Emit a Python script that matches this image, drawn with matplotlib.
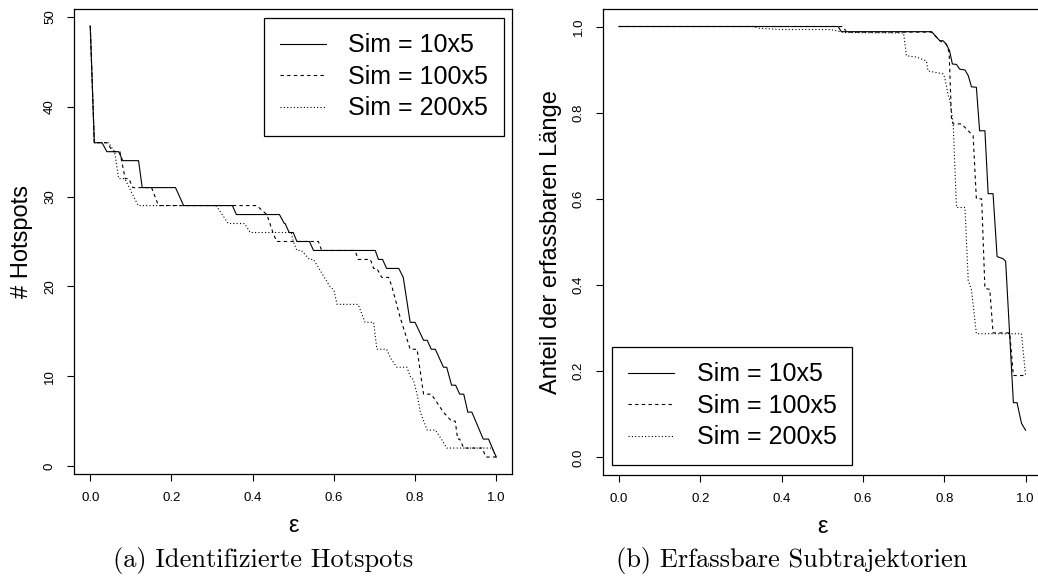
import matplotlib
matplotlib.use("Agg")
from matplotlib import pyplot as plt

plt.rcParams["font.family"] = ["Liberation Sans", "DejaVu Sans"]

labels = ["Sim = 10x5", "Sim = 100x5", "Sim = 200x5"]

# (a) number of hotspots over epsilon
hot_eps_10 = [0, 0.01, 0.029, 0.041, 0.07, 0.08, 0.119, 0.128, 0.21, 0.23, 0.35, 0.36,
              0.466, 0.478, 0.48, 0.49, 0.50, 0.509, 0.54, 0.55, 0.702, 0.71, 0.72, 0.73,
              0.76, 0.771, 0.788, 0.80, 0.821, 0.83, 0.84, 0.85, 0.87, 0.878, 0.89, 0.90,
              0.91, 0.92, 0.93, 0.94, 0.968, 0.981, 1.0]
hot_10 = [49, 36, 36, 35, 35, 34, 34, 31, 31, 29, 29, 28,
          28, 27, 27, 26, 26, 25, 25, 24, 24, 23, 23, 22,
          22, 21, 16, 16, 14, 14, 13, 13, 11, 11, 9, 9,
          8, 8, 6, 6, 3, 3, 1]

hot_eps_100 = [0, 0.01, 0.04, 0.057, 0.073, 0.086, 0.095, 0.105, 0.151, 0.168, 0.41, 0.435,
               0.45, 0.459, 0.562, 0.57, 0.652, 0.66, 0.69, 0.698, 0.706, 0.718, 0.735, 0.743,
               0.763, 0.788, 0.805, 0.821, 0.84, 0.87, 0.89, 0.899, 0.905, 0.91, 0.92, 0.965,
               0.975, 1.0]
hot_100 = [49, 36, 36, 35, 35, 32, 32, 31, 31, 29, 29, 28,
           26, 25, 25, 24, 24, 23, 23, 22, 22, 21, 21, 20,
           16.6, 13, 13, 8, 8, 6, 5, 5, 3, 3, 2, 2,
           1, 1]

hot_eps_200 = [0, 0.01, 0.045, 0.06, 0.07, 0.085, 0.118, 0.31, 0.34, 0.38, 0.394, 0.495,
               0.50, 0.509, 0.52, 0.54, 0.55, 0.59, 0.60, 0.608, 0.66, 0.677, 0.698, 0.706,
               0.73, 0.74, 0.755, 0.78, 0.788, 0.796, 0.805, 0.813, 0.83, 0.85, 0.865, 0.878,
               0.989, 1.0]
hot_200 = [49, 36, 36, 35, 32, 32, 29, 29, 27, 27, 26, 26,
           25, 24, 24, 23, 23, 20, 19.6, 18, 18, 16, 16, 13,
           13, 12, 11, 11, 10, 9.6, 8, 6, 4, 4, 3, 2,
           2, 1]

# (b) share of coverable length over epsilon
len_eps_10 = [0, 0.539, 0.547, 0.769, 0.789, 0.797, 0.805, 0.813, 0.82, 0.83, 0.838, 0.851,
              0.859, 0.867, 0.879, 0.887, 0.90, 0.908, 0.92, 0.93, 0.945, 0.951, 0.97, 0.979,
              0.99, 1.0]
len_10 = [1.0, 1.0, 0.988, 0.988, 0.967, 0.967, 0.959, 0.944, 0.913, 0.912, 0.901, 0.899,
          0.886, 0.86, 0.859, 0.758, 0.758, 0.612, 0.612, 0.466, 0.461, 0.455, 0.127, 0.127,
          0.079, 0.063]

len_eps_100 = [0, 0.55, 0.56, 0.769, 0.789, 0.805, 0.812, 0.818, 0.822, 0.842, 0.855, 0.867,
               0.871, 0.879, 0.892, 0.90, 0.912, 0.92, 0.961, 0.97, 1.0]
len_100 = [1.0, 1.0, 0.987, 0.987, 0.967, 0.959, 0.94, 0.781, 0.774, 0.774, 0.762, 0.75,
           0.747, 0.60, 0.60, 0.392, 0.39, 0.289, 0.289, 0.19, 0.19]

len_eps_200 = [0, 0.33, 0.345, 0.40, 0.52, 0.555, 0.70, 0.707, 0.732, 0.756, 0.76, 0.797,
               0.801, 0.81, 0.814, 0.822, 0.83, 0.851, 0.859, 0.867, 0.879, 0.99, 1.0]
len_200 = [1.0, 1.0, 0.996, 0.993, 0.993, 0.986, 0.985, 0.932, 0.929, 0.92, 0.897, 0.89,
           0.882, 0.839, 0.828, 0.774, 0.58, 0.58, 0.41, 0.389, 0.287, 0.287, 0.19]

styles = [dict(ls="-"), dict(ls=(0, (3, 3))), dict(ls=(0, (1, 2)))]


def r_style(ax, yticks, ylabels):
    ax.set_xticks([0, 0.2, 0.4, 0.6, 0.8, 1.0])
    ax.set_xticklabels(["0.0", "0.2", "0.4", "0.6", "0.8", "1.0"])
    ax.set_yticks(yticks)
    ax.set_yticklabels(ylabels, rotation=90, va="center")
    ax.tick_params(direction="out", length=5, width=0.8, pad=8, labelsize=9.5)
    for s in ax.spines.values():
        s.set_linewidth(0.9)


fig = plt.figure(figsize=(10.38, 5.76), dpi=100)
ax1 = fig.add_axes([0.0713, 0.1766, 0.4224, 0.8083])
ax2 = fig.add_axes([0.5806, 0.176, 0.4231, 0.8079])

for xs, ys, lab, st in zip([hot_eps_10, hot_eps_100, hot_eps_200],
                           [hot_10, hot_100, hot_200], labels, styles):
    ax1.plot(xs, ys, color="black", lw=0.8, label=lab, **st)
ax1.set_xlim(-0.04, 1.04)
ax1.set_ylim(-0.92, 50.92)
r_style(ax1, [0, 10, 20, 30, 40, 50], ["0", "10", "20", "30", "40", "50"])
ax1.set_ylabel("# Hotspots", fontsize=17)
ax1.yaxis.set_label_coords(-0.094, 0.5)
ax1.set_xlabel("ε", fontsize=17)
ax1.xaxis.set_label_coords(0.5, -0.088)

for xs, ys, lab, st in zip([len_eps_10, len_eps_100, len_eps_200],
                           [len_10, len_100, len_200], labels, styles):
    ax2.plot(xs, ys, color="black", lw=0.8, label=lab, **st)
ax2.set_xlim(-0.04, 1.04)
ax2.set_ylim(-0.04, 1.04)
r_style(ax2, [0, 0.2, 0.4, 0.6, 0.8, 1.0], ["0.0", "0.2", "0.4", "0.6", "0.8", "1.0"])
ax2.set_ylabel("Anteil der erfassbaren Länge", fontsize=17)
ax2.yaxis.set_label_coords(-0.093, 0.5)
ax2.set_xlabel("ε", fontsize=17)
ax2.xaxis.set_label_coords(0.5, -0.088)

leg_kw = dict(fontsize=18, handlelength=1.84, handletextpad=0.9, borderpad=0.63,
              labelspacing=0.3, borderaxespad=0, fancybox=False, framealpha=1,
              edgecolor="black")
l1 = ax1.legend(loc="upper right", bbox_to_anchor=(0.9806, 0.9807), **leg_kw)
l2 = ax2.legend(loc="lower left", bbox_to_anchor=(0.0219, 0.0206), **leg_kw)
for l in (l1, l2):
    l.get_frame().set_linewidth(0.9)

fig.text(263 / 1038, 1 - 567 / 576, "(a) Identifizierte Hotspots", ha="center",
         va="baseline", fontfamily="cmr10", fontsize=19)
fig.text(792 / 1038, 1 - 567 / 576, "(b) Erfassbare Subtrajektorien", ha="center",
         va="baseline", fontfamily="cmr10", fontsize=19)

fig.savefig("out.png", dpi=100)
